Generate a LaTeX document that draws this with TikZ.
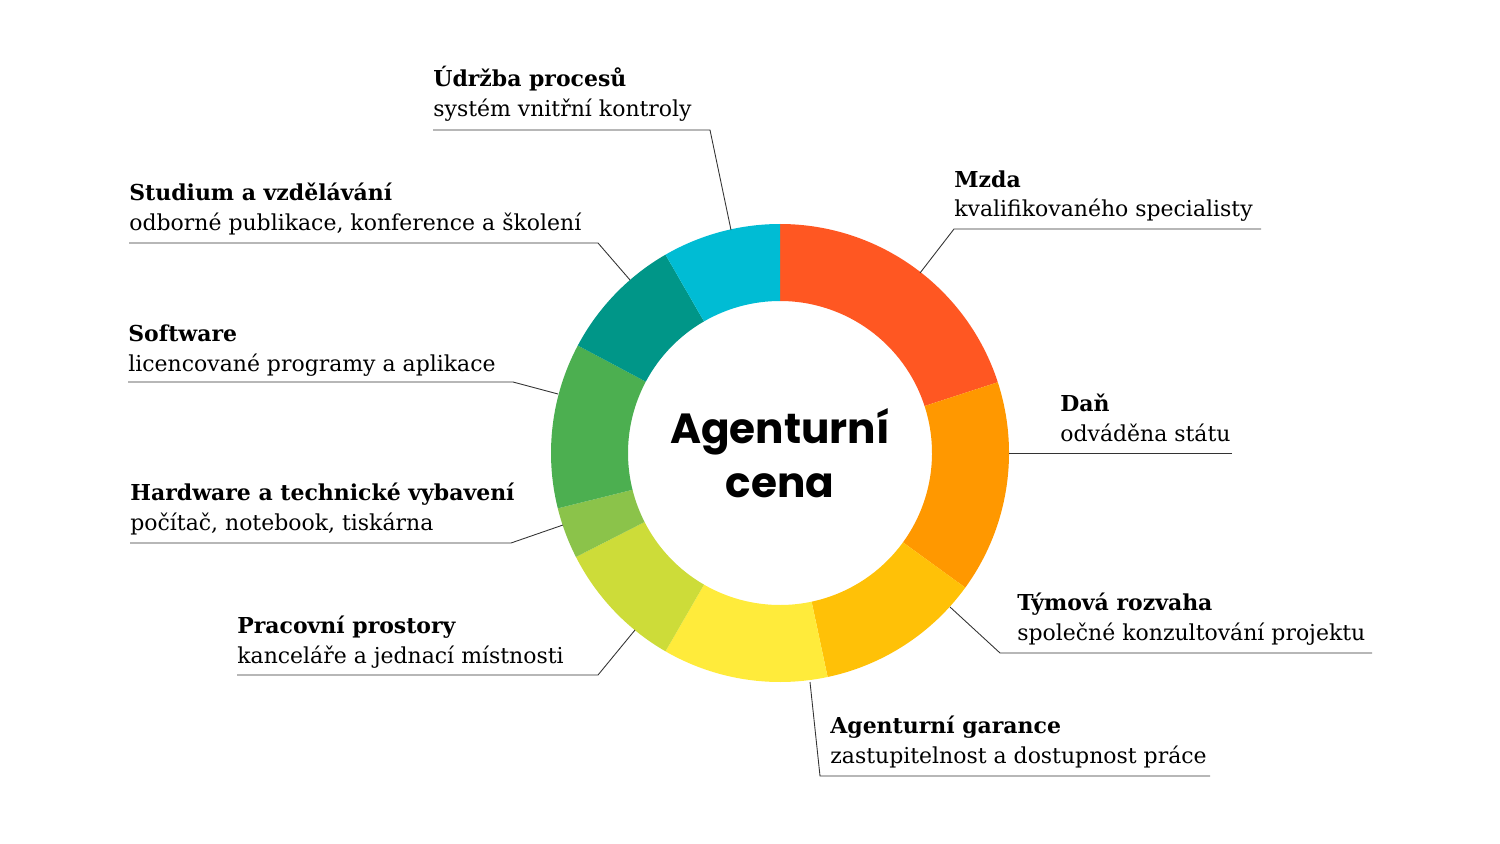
\documentclass[tikz,border=0pt]{standalone}
\usepackage{fontspec}
\setmainfont{DejaVu Serif}
\newfontfamily\titlefont{Poppins}
\definecolor{cMzda}{HTML}{FF5722}
\definecolor{cDan}{HTML}{FF9800}
\definecolor{cTym}{HTML}{FFC107}
\definecolor{cGar}{HTML}{FFEB3B}
\definecolor{cPrac}{HTML}{CDDC39}
\definecolor{cHw}{HTML}{8BC34A}
\definecolor{cSw}{HTML}{4CAF50}
\definecolor{cStud}{HTML}{009688}
\definecolor{cUdr}{HTML}{00BCD4}
\newcommand{\outr}{229}
\newcommand{\innr}{152}

\begin{document}
\begin{tikzpicture}[x=0.02cm,y=-0.02cm]
                \useasboundingbox (0,0) rectangle (1500,844);
                \tikzset{
                    head/.style={anchor=base west,inner sep=0pt,font=\fontsize{12.5}{14}\selectfont\bfseries},
                    sub/.style={anchor=base west,inner sep=0pt,font=\fontsize{12.5}{14}\selectfont},
                    leader/.style={draw=black!80,line width=0.5pt}
                }

                % ring segments
                \begin{scope}[shift={(780,453)},y=0.02cm]
                \foreach \a/\b/\c in {90/18/cMzda,18/-36/cDan,-36/-78/cTym,-78/-120/cGar,
                        -120/-153/cPrac,-153/-166/cHw,-166/-208/cSw,-208/-240/cStud,-240/-270/cUdr}{
                    \fill[\c] (\a:\outr) arc[start angle=\a,end angle=\b,radius=\outr]
                        -- (\b:\innr) arc[start angle=\b,end angle=\a,radius=\innr] -- cycle;
                }
                \end{scope}
                \node[align=center,font=\titlefont\fontsize{24}{31}\selectfont\bfseries] (title) at (780,453) {Agenturní\\cena};

                % labels
                \node[head] (udrH) at (433,87) {Údržba procesů};
                \node[sub] (udrS) at (433,117) {systém vnitřní kontroly};
                \node[head] (studH) at (129,201) {Studium a vzdělávání};
                \node[sub] (studS) at (129,231) {odborné publikace, konference a školení};
                \node[head] (swH) at (128,341) {Software};
                \node[sub] (swS) at (128,371) {licencované programy a aplikace};
                \node[head] (hwH) at (130,500) {Hardware a technické vybavení};
                \node[sub] (hwS) at (130,530) {počítač, notebook, tiskárna};
                \node[head] (pracH) at (237,633) {Pracovní prostory};
                \node[sub] (pracS) at (237,663) {kanceláře a jednací místnosti};
                \node[head] (mzdaH) at (954,188) {Mzda};
                \node[sub] (mzdaS) at (954,217) {kvalifikovaného specialisty};
                \node[head] (danH) at (1060,411) {Daň};
                \node[sub] (danS) at (1060,441) {odváděna státu};
                \node[head] (tymH) at (1017,610) {Týmová rozvaha};
                \node[sub] (tymS) at (1017,640) {společné konzultování projektu};
                \node[head] (garH) at (830,733) {Agenturní garance};
                \node[sub] (garS) at (830,763) {zastupitelnost a dostupnost práce};

                % leaders
                \coordinate (udrA) at (433,130); \coordinate (udrB) at (710,130); \coordinate (udrC) at (731,230);
                \coordinate (studA) at (129,243); \coordinate (studB) at (598,243); \coordinate (studC) at (630,280);
                \coordinate (swA) at (128,382); \coordinate (swB) at (513,382); \coordinate (swC) at (558,394);
                \coordinate (hwA) at (130,543); \coordinate (hwB) at (511,543); \coordinate (hwC) at (563,525);
                \coordinate (pracA) at (237,675); \coordinate (pracB) at (598,675); \coordinate (pracC) at (635,630);
                \coordinate (mzdaA) at (1261,229); \coordinate (mzdaB) at (954,229); \coordinate (mzdaC) at (920,273);
                \coordinate (danA) at (1232,453); \coordinate (danB) at (1009,453);
                \coordinate (tymA) at (1372,653); \coordinate (tymB) at (1000,653); \coordinate (tymC) at (950,607);
                \coordinate (garA) at (1210,776); \coordinate (garB) at (820,776); \coordinate (garC) at (810,682);
                \foreach \n in {udr,stud,sw,hw,prac,mzda,tym,gar}
                    \draw[leader] (\n A) -- (\n B) -- (\n C);
                \draw[leader] (danA) -- (danB);
\end{tikzpicture}
\end{document}
